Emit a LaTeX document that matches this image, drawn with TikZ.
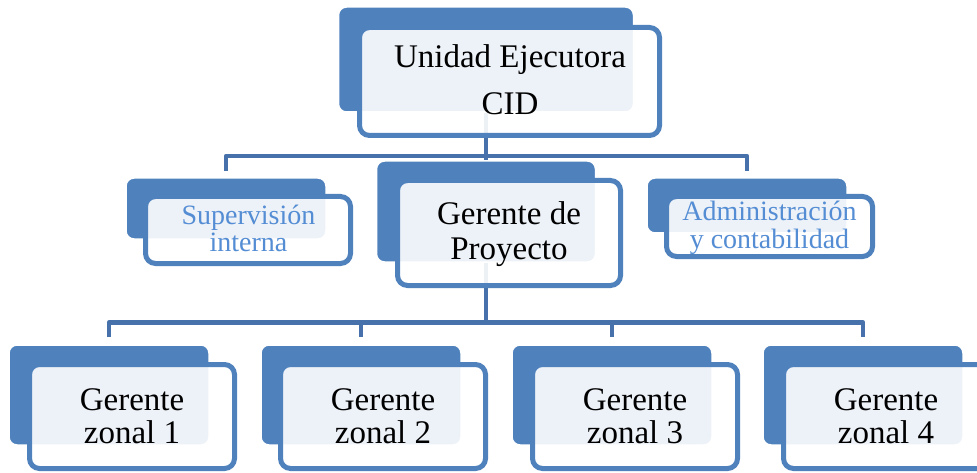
\documentclass[tikz,border=0pt]{standalone}
\usepackage{fontspec}
\setmainfont{Liberation Serif}
\definecolor{boxblue}{HTML}{4F81BD}
\definecolor{linkblue}{HTML}{4671AA}
\definecolor{txtblue}{HTML}{548DD4}
\pgfdeclarelayer{bg}
\pgfsetlayers{bg,main}
\newcommand{\twoln}[2]{\begin{tabular}[t]{@{}c@{}}#1\\#2\end{tabular}}
\tikzset{
  backbox/.style={rectangle, rounded corners=8pt, fill=boxblue, draw=white, line width=1.5pt, inner sep=0pt},
  frontbox/.style={rectangle, rounded corners=10pt, fill=white, fill opacity=0.9, draw=boxblue, draw opacity=1, line width=5pt, inner sep=0pt},
  conn/.style={draw=linkblue, line width=4.5pt, line join=round},
  bigtxt/.style={anchor=base, inner sep=0pt, text=black, font=\fontsize{33}{#1}\selectfont},
  smalltxt/.style={anchor=base, inner sep=0pt, text=txtblue, font=\fontsize{28}{27}\selectfont},
  zback/.style={backbox, minimum width=200pt, minimum height=100pt},
  zfront/.style={frontbox, minimum width=205pt, minimum height=104pt},
}
\begin{document}
\begin{tikzpicture}[x=1pt, y=-1pt]
\begin{pgfonlayer}{bg}
\fill[white] (0,0) rectangle (977,473);
\end{pgfonlayer}
\useasboundingbox (0,0) rectangle (977,473);

% bus coordinates
\coordinate (bus1) at (486,156);
\coordinate (bus2) at (486,322.5);

% back boxes
\node[backbox, minimum width=295pt, minimum height=105pt] (ub) at (486,59.5) {};
\node[backbox, minimum width=200pt, minimum height=61pt] (sb) at (226,208.5) {};
\node[backbox, minimum width=200pt, minimum height=55pt] (ab) at (747,205.5) {};
\node[backbox, minimum width=219pt, minimum height=101pt] (gb) at (486,211.5) {};
\node[zback] (z1b) at (109,395) {};
\node[zback] (z2b) at (361,395) {};
\node[zback] (z3b) at (612,395) {};
\node[zback] (z4b) at (863,395) {};

% front boxes
\node[frontbox, minimum width=300pt, minimum height=108pt] (uf) at (509.5,81.5) {};
\node[frontbox, minimum width=205pt, minimum height=67pt] (sf) at (248,230) {};
\node[frontbox, minimum width=206pt, minimum height=60pt] (af) at (769.5,226.5) {};
\node[frontbox, minimum width=223pt, minimum height=105pt] (gf) at (509,233) {};
\node[zfront] (z1f) at (132,416.5) {};
\node[zfront] (z2f) at (383,416.5) {};
\node[zfront] (z3f) at (635,416.5) {};
\node[zfront] (z4f) at (886,416.5) {};

% connectors (behind the boxes)
\begin{pgfonlayer}{bg}
\draw[conn] (ub.south) -- (gb.north);
\draw[conn, shorten <=6pt, shorten >=6pt] (sb.north) -- (sb.north |- bus1) -- (ab.north |- bus1) -- (ab.north);
\draw[conn] (gb.south) -- (gb.south |- bus2);
\draw[conn, shorten <=7pt, shorten >=7pt] (z1b.north) -- (z1b.north |- bus2) -- (z4b.north |- bus2) -- (z4b.north);
\draw[conn, shorten >=7pt] (z2b.north |- bus2) -- (z2b.north);
\draw[conn, shorten >=7pt] (z3b.north |- bus2) -- (z3b.north);
\end{pgfonlayer}

% texts
\node[bigtxt=47] (ut) at (510,68) {\twoln{Unidad Ejecutora}{CID}};
\node[smalltxt] (st) at (248.5,225) {\twoln{Supervisión}{interna}};
\node[smalltxt] (at) at (769.5,221) {\twoln{Administración}{y contabilidad}};
\node[bigtxt=35] (gt) at (509,225) {\twoln{Gerente de}{Proyecto}};
\node[bigtxt=33] (z1t) at (132,410) {\twoln{Gerente}{zonal 1}};
\node[bigtxt=33] (z2t) at (383,410) {\twoln{Gerente}{zonal 2}};
\node[bigtxt=33] (z3t) at (635,410) {\twoln{Gerente}{zonal 3}};
\node[bigtxt=33] (z4t) at (886,410) {\twoln{Gerente}{zonal 4}};
\end{tikzpicture}
\end{document}
